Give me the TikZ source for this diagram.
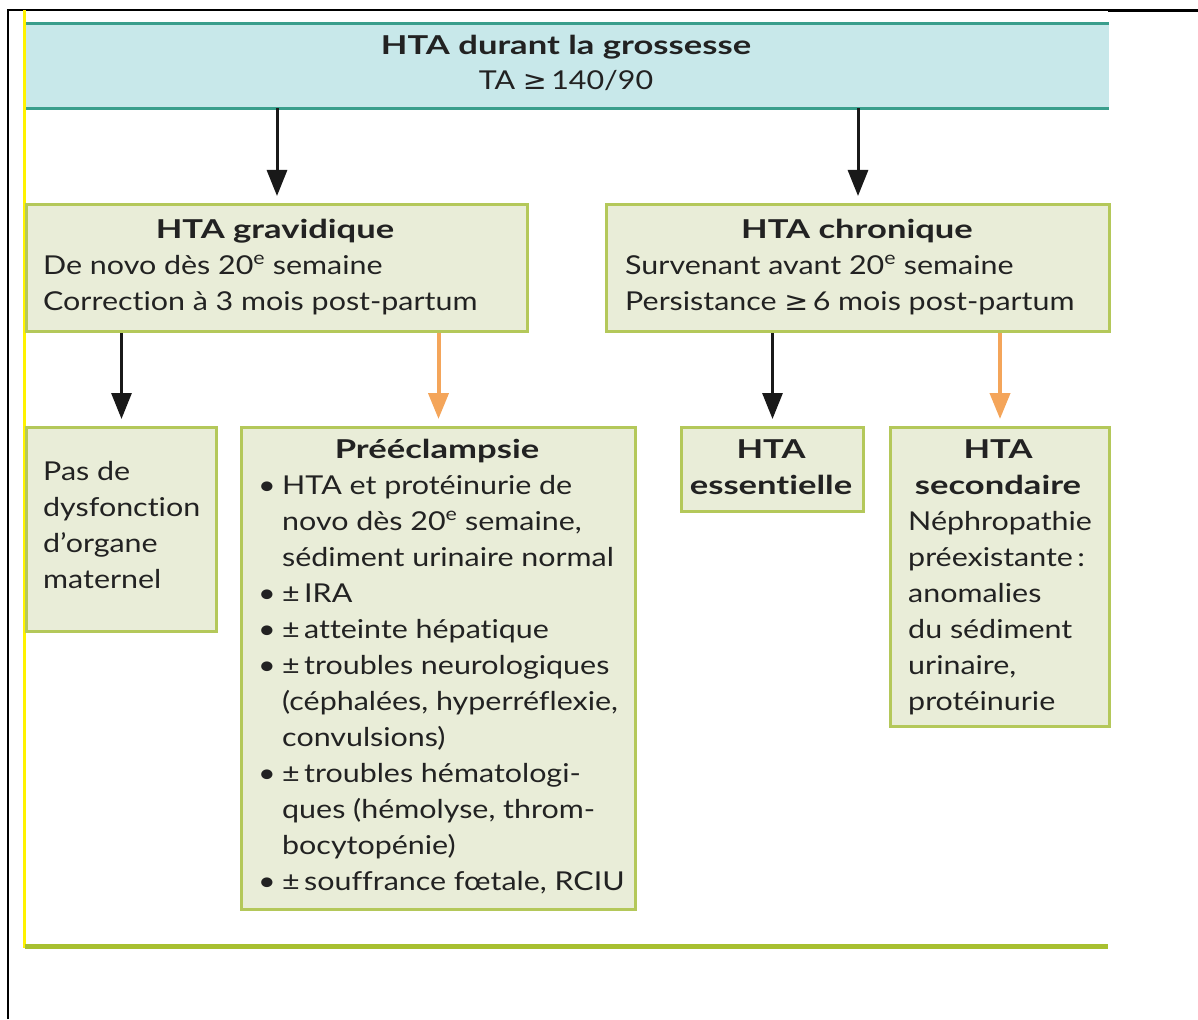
\documentclass[tikz,border=0pt]{standalone}
\usepackage{fontspec}
\setmainfont{Lato}[FakeStretch=1.17, BoldFeatures={FakeStretch=1.33}, Ligatures=NoCommon]
\newfontfamily\symf{DejaVu Sans}[FakeStretch=1.1]
\usetikzlibrary{arrows.meta}
\definecolor{tealline}{HTML}{3A9E8C}
\definecolor{tealfill}{HTML}{C8E8EA}
\definecolor{gborder}{HTML}{B4C85A}
\definecolor{gfill}{HTML}{E9EDD8}
\definecolor{gline}{HTML}{A8C030}
\definecolor{orangearr}{HTML}{F4A55A}
\definecolor{txtc}{HTML}{222222}
\tikzset{
  gbox/.style={draw=gborder, fill=gfill, line width=3pt, inner sep=0pt, anchor=north west},
  txt/.style={text=txtc, inner sep=0pt, font=\fontsize{26pt}{36pt}\selectfont},
  ttl/.style={txt, anchor=base, font=\fontsize{26pt}{36pt}\selectfont\bfseries},
  lft/.style={txt, anchor=base west},
  blkarr/.style={draw=black!90, line width=3pt, -{Triangle[width=20pt,length=26pt]}, shorten >=7pt},
  orarr/.style={draw=orangearr, line width=4pt, -{Triangle[width=20pt,length=26pt]}, shorten >=7pt},
}
\begin{document}
\begin{tikzpicture}[x=1pt,y=-1pt]
\useasboundingbox (0,0) rectangle (1198,1019);
% frame
\draw[black, line width=2pt] (8,1019) -- (8,10.5) -- (1108,10.5);
\draw[black, line width=3pt] (1108,11) -- (1198,11);
\fill[yellow] (23,10) rectangle (26,948);
\fill[gline] (25,944) rectangle (1108,949);
% header
\node[fill=tealfill, inner sep=0pt, minimum width=1083pt, minimum height=84pt, anchor=north west] (hdr) at (26,24) {};
\draw[tealline, line width=3pt] (hdr.north west) -- (hdr.north east);
\draw[tealline, line width=3pt] (hdr.south west) -- (hdr.south east);
\node[ttl] (h1) at (566,55) {HTA durant la grossesse};
\node[txt, anchor=base] (h2) at (566,90) {TA {\symf ≥}\,140/90};
% boxes
\node[gbox, minimum width=501pt, minimum height=127pt] (grav) at (25,203) {};
\node[gbox, minimum width=503pt, minimum height=127pt] (chro) at (605,203) {};
\node[gbox, minimum width=190pt, minimum height=204pt] (pas) at (25,426) {};
\node[gbox, minimum width=394pt, minimum height=482pt] (pre) at (240,426) {};
\node[gbox, minimum width=182pt, minimum height=84pt] (ess) at (680,426) {};
\node[gbox, minimum width=219pt, minimum height=299pt] (sec) at (889,426) {};
% gravidique text
\node[ttl] (g1) at (275,238) {HTA gravidique};
\node[lft] (g2) at (43,274) {De novo dès 20\textsuperscript{e} semaine};
\node[lft] (g3) at (43,310) {Correction à 3 mois post-partum};
% chronique text
\node[ttl] (c1) at (857,238) {HTA chronique};
\node[lft] (c2) at (625,274) {Survenant avant 20\textsuperscript{e} semaine};
\node[lft] (c3) at (625,310) {Persistance {\symf ≥}\,6 mois post-partum};
% pas de
\node[lft] (p1) at (43,480) {Pas de};
\node[lft] (p2) at (43,516) {dysfonction};
\node[lft] (p3) at (43,552) {d’organe};
\node[lft] (p4) at (43,588) {maternel};
% preeclampsie
\node[ttl] (e0) at (437,458) {Prééclampsie};
\foreach \y/\b/\t [count=\i] in {
  494/•/HTA et protéinurie de,
  530//novo dès 20\textsuperscript{e} semaine{,},
  566//sédiment urinaire normal,
  602/•/±\,IRA,
  638/•/±\,atteinte hépatique,
  674/•/±\,troubles neurologiques,
  710//(céphalées{,} hyperréflexie{,},
  746//convulsions),
  782/•/±\,troubles hématologi-,
  818//ques (hémolyse{,} throm-,
  854//bocytopénie),
  890/•/±\,souffrance fœtale{,} RCIU} {
  \node[lft] (eb\i) at (258,\y) {\b};
  \node[lft] (et\i) at (282,\y) {\t};
}
% essentielle
\node[ttl] (s1) at (771,458) {HTA};
\node[ttl] (s2) at (771,494) {essentielle};
% secondaire
\node[ttl] (r1) at (998,458) {HTA};
\node[ttl] (r2) at (998,494) {secondaire};
\node[lft] (r3) at (908,530) {Néphropathie};
\node[lft] (r4) at (908,566) {préexistante\,:};
\node[lft] (r5) at (908,602) {anomalies};
\node[lft] (r6) at (908,638) {du sédiment};
\node[lft] (r7) at (908,674) {urinaire,};
\node[lft] (r8) at (908,710) {protéinurie};
% arrows
\draw[blkarr] (hdr.south -| grav.north) -- (grav.north);
\draw[blkarr] (hdr.south -| chro.north) -- (chro.north);
\draw[blkarr] (grav.south -| pas.north) -- (pas.north);
\draw[orarr] (grav.south -| pre.north) -- (pre.north);
\draw[blkarr] (chro.south -| ess.north) -- (ess.north);
\draw[orarr] (chro.south -| sec.north) -- (sec.north);
\end{tikzpicture}
\end{document}
